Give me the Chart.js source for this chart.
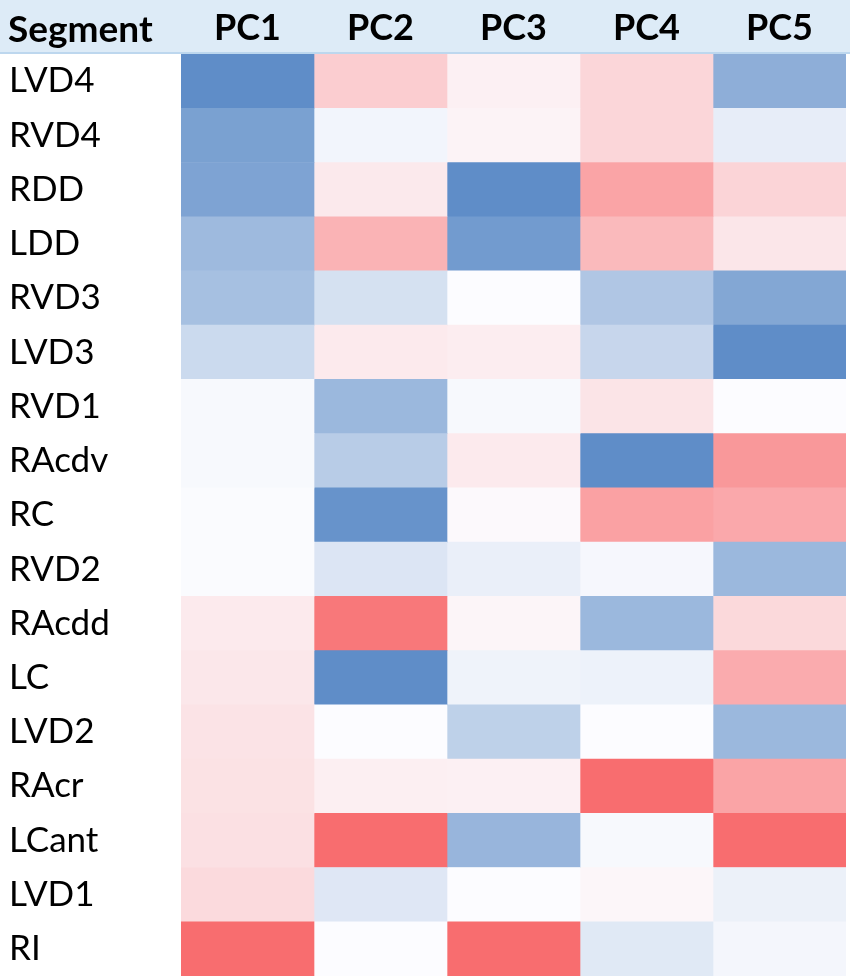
<!DOCTYPE html>
<html>
<head>
<meta charset="utf-8">
<script src="https://cdn.jsdelivr.net/npm/chart.js@4.4.1/dist/chart.umd.min.js"></script>
<style>
  html, body { margin: 0; padding: 0; background: #ffffff; }
  #wrap { width: 850px; height: 979px; position: relative; }
</style>
</head>
<body>
<div id="wrap"><canvas id="c"></canvas></div>
<script>
// Categories (rows) and components (columns)
const segments = ["LVD4","RVD4","RDD","LDD","RVD3","LVD3","RVD1","RAcdv","RC","RVD2","RAcdd","LC","LVD2","RAcr","LCant","LVD1","RI"];
const components = ["PC1","PC2","PC3","PC4","PC5"];
const headerLabel = "Segment";

// Estimated relative loadings (+ = blue, - = red), one array per component
const pc1 = [0.97, 0.80, 0.78, 0.58, 0.53, 0.30, 0.03, 0.03, 0.01, 0.01, -0.12, -0.14, -0.17, -0.18, -0.19, -0.23, -0.97];
const pc2 = [-0.32, 0.06, -0.13, -0.50, 0.24, -0.12, 0.60, 0.42, 0.92, 0.20, -0.90, 0.97, 0.00, -0.09, -0.97, 0.18, 0.00];
const pc3 = [-0.08, -0.06, 0.97, 0.85, 0.00, -0.10, 0.03, -0.12, -0.02, 0.11, -0.05, 0.08, 0.38, -0.08, 0.62, 0.00, -0.97];
const pc4 = [-0.26, -0.26, -0.60, -0.45, 0.47, 0.33, -0.16, 0.97, -0.62, 0.04, 0.60, 0.09, 0.00, -0.97, 0.03, -0.04, 0.17];
const pc5 = [0.68, 0.13, -0.27, -0.15, 0.75, 0.97, 0.00, -0.68, -0.57, 0.60, -0.24, -0.55, 0.60, -0.60, -0.97, 0.10, 0.05];

const series = [pc1, pc2, pc3, pc4, pc5];

// Excel-like 3-colour scale: red - white - blue
const RED = [248, 105, 107], MID = [252, 252, 255], BLUE = [90, 138, 198];
function scaleColor(v) {
  const t = Math.min(1, Math.abs(v));
  const end = v >= 0 ? BLUE : RED;
  const c = MID.map((m, i) => Math.round(m + (end[i] - m) * t));
  return `rgb(${c[0]},${c[1]},${c[2]})`;
}

const datasets = series.map((vals, j) => ({
  label: components[j],
  data: segments.map(() => 1),
  backgroundColor: vals.map(scaleColor),
  borderWidth: 0,
  barPercentage: 1.0,
  categoryPercentage: 1.0,
  xAxisID: 'x',
  yAxisID: 'y'
}));

const headerPlugin = {
  id: 'headerPlugin',
  beforeDraw(chart) {
    const { ctx, chartArea } = chart;
    ctx.save();
    ctx.fillStyle = '#DDEBF7';
    ctx.fillRect(0, 0, chart.width, chartArea.top);
    ctx.fillStyle = '#BDD7EE';
    ctx.fillRect(0, chartArea.top - 2, chart.width, 2);
    ctx.restore();
  },
  afterDraw(chart) {
    const { ctx, chartArea } = chart;
    ctx.save();
    ctx.fillStyle = '#000000';
    ctx.font = 'bold 37px Lato';
    ctx.textAlign = 'left';
    ctx.textBaseline = 'middle';
    ctx.fillText(headerLabel, 8, chartArea.top / 2 + 3);
    ctx.restore();
  }
};

new Chart(document.getElementById('c'), {
  type: 'bar',
  data: { labels: segments, datasets },
  plugins: [headerPlugin],
  options: {
    indexAxis: 'y',
    responsive: true,
    maintainAspectRatio: false,
    animation: false,
    layout: { padding: { left: 9, right: 4, top: 0, bottom: 3 } },
    plugins: { legend: { display: false }, tooltip: { enabled: false } },
    scales: {
      x: {
        type: 'linear', stacked: true, min: 0, max: 5,
        display: false
      },
      x2: {
        type: 'category', labels: components, position: 'top', offset: true,
        grid: { display: false }, border: { display: false },
        ticks: { color: '#000', font: { family: 'Lato', size: 36, weight: 'bold' }, padding: -4 },
        afterFit(scale) { scale.height = 54; }
      },
      y: {
        type: 'category', stacked: true,
        grid: { display: false }, border: { display: false },
        ticks: { color: '#000', crossAlign: 'far', font: { family: 'Lato', size: 35 }, padding: 0 },
        afterFit(scale) { scale.width = 172; scale.paddingTop = 0; scale.paddingBottom = 0; }
      }
    }
  }
});
</script>
</body>
</html>
